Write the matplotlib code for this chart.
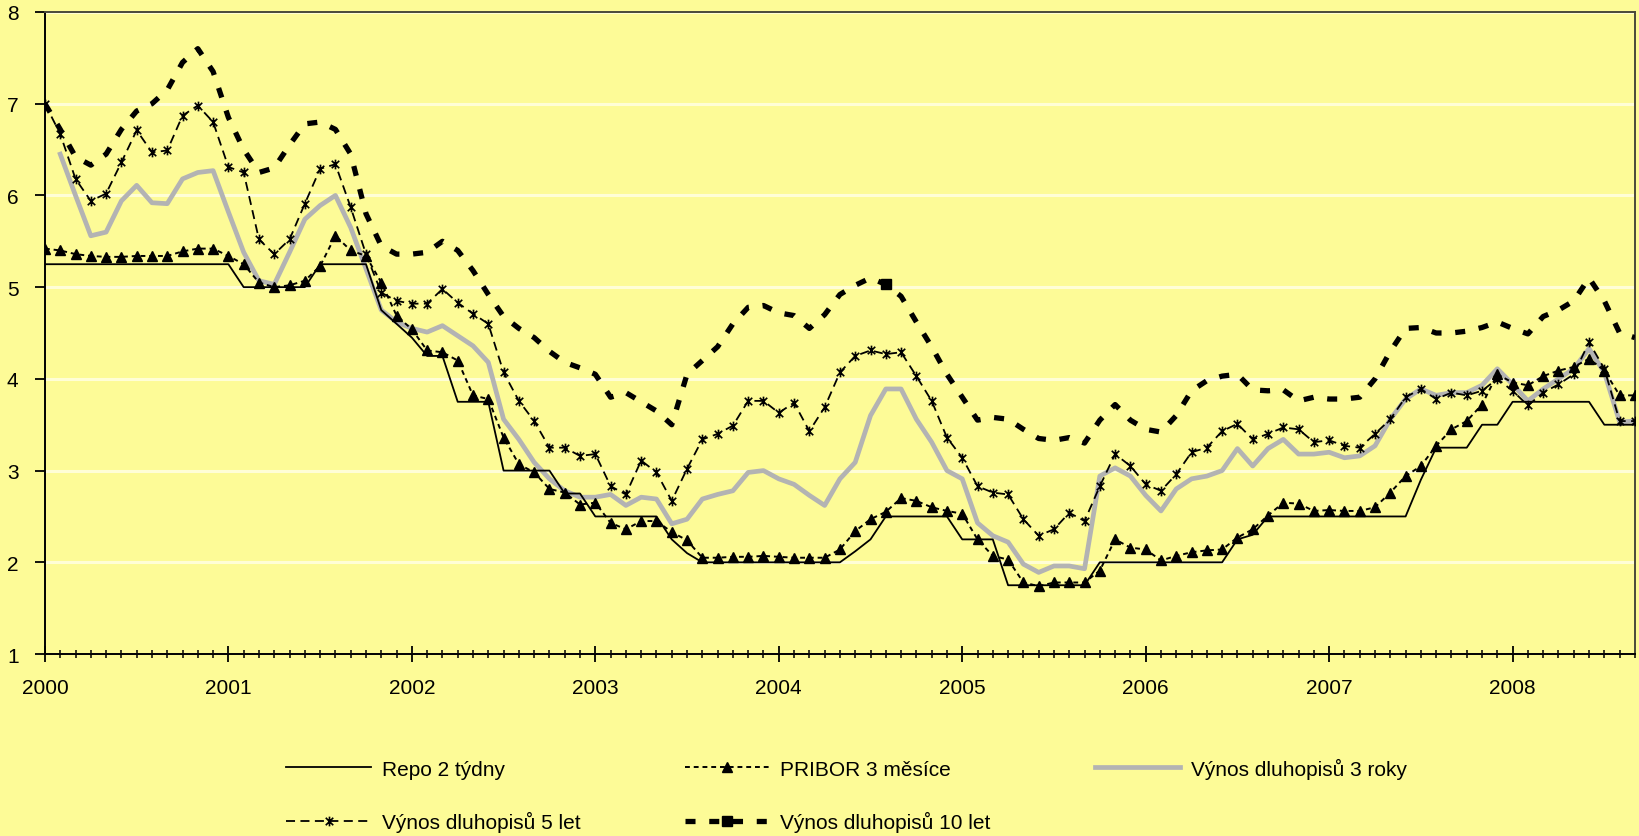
import numpy as np
import matplotlib
matplotlib.use("Agg")
import matplotlib.pyplot as plt
from matplotlib.path import Path

plt.rcParams['font.family'] = ['Liberation Sans', 'DejaVu Sans']

# monthly data, Jan 2000 .. Sep 2008 (105 months)
year_labels = ['2000', '2001', '2002', '2003', '2004', '2005', '2006', '2007', '2008']

repo_2w = [5.25] * 13 + [5.0] * 5 + [5.25] * 4 + [4.75, 4.6, 4.45, 4.25, 4.25] + \
    [3.75] * 3 + [3.0] * 4 + [2.75] * 2 + [2.5] * 5 + [2.25, 2.1] + [2.0] * 10 + \
    [2.12, 2.25] + [2.5] * 5 + [2.25] * 3 + [1.75] * 6 + [2.0] * 9 + [2.25, 2.3] + \
    [2.5] * 10 + [2.9] + [3.25] * 3 + [3.5] * 2 + [3.75] * 6 + [3.5] * 3

pribor_3m = [5.42, 5.40, 5.36, 5.34, 5.33, 5.33, 5.34, 5.34, 5.34, 5.39, 5.42, 5.42,
             5.34, 5.25, 5.05, 5.00, 5.02, 5.07, 5.23, 5.56, 5.40, 5.34, 5.05, 4.69,
             4.54, 4.31, 4.29, 4.20, 3.82, 3.78, 3.36, 3.07, 2.98, 2.80, 2.76, 2.63,
             2.65, 2.43, 2.36, 2.45, 2.45, 2.33, 2.24, 2.05, 2.05, 2.06, 2.06, 2.07,
             2.06, 2.05, 2.05, 2.05, 2.14, 2.34, 2.47, 2.55, 2.70, 2.67, 2.60, 2.56,
             2.53, 2.25, 2.07, 2.03, 1.78, 1.74, 1.78, 1.78, 1.78, 1.91, 2.25, 2.16,
             2.14, 2.02, 2.07, 2.11, 2.13, 2.14, 2.27, 2.36, 2.51, 2.65, 2.64, 2.56,
             2.57, 2.56, 2.56, 2.60, 2.76, 2.94, 3.05, 3.27, 3.45, 3.54, 3.72, 4.05,
             3.96, 3.93, 4.03, 4.09, 4.13, 4.22, 4.09, 3.82, 3.82]

bond_3y = [np.nan, 6.45, 6.00, 5.56, 5.60, 5.94, 6.11, 5.92, 5.91, 6.18, 6.25, 6.27,
           5.82, 5.38, 5.07, 5.03, 5.38, 5.74, 5.89, 6.00, 5.65, 5.20, 4.75, 4.62,
           4.55, 4.51, 4.58, 4.47, 4.36, 4.18, 3.56, 3.34, 3.09, 2.91, 2.78, 2.71,
           2.71, 2.74, 2.62, 2.71, 2.69, 2.42, 2.47, 2.69, 2.74, 2.78, 2.98, 3.00,
           2.91, 2.85, 2.73, 2.62, 2.91, 3.09, 3.60, 3.89, 3.89, 3.56, 3.31, 3.00,
           2.91, 2.43, 2.29, 2.22, 1.98, 1.89, 1.96, 1.96, 1.93, 2.94, 3.03, 2.94,
           2.73, 2.56, 2.80, 2.91, 2.94, 3.00, 3.24, 3.05, 3.24, 3.34, 3.18, 3.18,
           3.20, 3.14, 3.16, 3.27, 3.56, 3.78, 3.89, 3.82, 3.85, 3.85, 3.93, 4.11,
           3.94, 3.76, 3.89, 4.00, 4.11, 4.33, 4.07, 3.53, 3.54]

bond_5y = [7.00, 6.67, 6.18, 5.94, 6.02, 6.36, 6.71, 6.47, 6.49, 6.87, 6.98, 6.80,
           6.31, 6.25, 5.52, 5.36, 5.52, 5.91, 6.29, 6.34, 5.87, 5.36, 4.94, 4.85,
           4.82, 4.82, 4.98, 4.83, 4.71, 4.60, 4.07, 3.76, 3.54, 3.25, 3.25, 3.16,
           3.18, 2.83, 2.74, 3.11, 2.98, 2.67, 3.02, 3.34, 3.40, 3.49, 3.76, 3.76,
           3.63, 3.74, 3.43, 3.69, 4.07, 4.25, 4.31, 4.27, 4.29, 4.03, 3.76, 3.36,
           3.14, 2.83, 2.76, 2.74, 2.47, 2.29, 2.36, 2.54, 2.45, 2.83, 3.18, 3.05,
           2.85, 2.78, 2.96, 3.20, 3.25, 3.43, 3.51, 3.34, 3.40, 3.47, 3.45, 3.31,
           3.33, 3.27, 3.25, 3.40, 3.56, 3.80, 3.89, 3.78, 3.85, 3.82, 3.87, 4.00,
           3.87, 3.71, 3.85, 3.94, 4.05, 4.40, 4.11, 3.54, 3.54]

bond_10y = [7.00, 6.72, 6.42, 6.33, 6.45, 6.72, 6.92, 7.00, 7.15, 7.45, 7.60, 7.35,
            6.85, 6.50, 6.25, 6.30, 6.55, 6.78, 6.80, 6.72, 6.45, 5.80, 5.45, 5.36,
            5.36, 5.38, 5.50, 5.40, 5.18, 4.92, 4.68, 4.55, 4.45, 4.30, 4.18, 4.12,
            4.05, 3.80, 3.85, 3.75, 3.65, 3.50, 4.05, 4.20, 4.35, 4.60, 4.78, 4.80,
            4.72, 4.69, 4.55, 4.70, 4.92, 5.02, 5.10, 5.03, 4.90, 4.62, 4.35, 4.05,
            3.80, 3.55, 3.58, 3.56, 3.45, 3.35, 3.33, 3.36, 3.30, 3.55, 3.72, 3.55,
            3.45, 3.42, 3.60, 3.87, 3.98, 4.03, 4.05, 3.88, 3.87, 3.88, 3.76, 3.80,
            3.78, 3.78, 3.80, 4.00, 4.30, 4.55, 4.56, 4.50, 4.50, 4.52, 4.56, 4.62,
            4.55, 4.49, 4.68, 4.75, 4.85, 5.10, 4.85, 4.50, 4.45]

months = np.arange(len(repo_2w))

bg = '#FDFB97'

fig = plt.figure(figsize=(16.4, 8.37), dpi=100)
fig.patch.set_facecolor(bg)
ax = fig.add_axes([0.0274, 0.2174, 0.9695, 0.7671])
ax.set_facecolor(bg)

# star marker like the spreadsheet one: x with a vertical bar
star = Path([(-1, -1), (1, 1), (-1, 1), (1, -1), (0, -1.3), (0, 1.3)],
            [Path.MOVETO, Path.LINETO] * 3)

l3, = ax.plot(months, bond_3y, color='#B3B3B3', lw=3.4, solid_joinstyle='round',
              label='Výnos dluhopisů 3 roky', zorder=2)
l1, = ax.plot(months, repo_2w, color='black', lw=1.3, label='Repo 2 týdny', zorder=3)
l2, = ax.plot(months, pribor_3m, color='black', lw=1.4, ls=(0, (2.5, 2)),
              marker='^', ms=6.5, mfc='black', mec='black',
              label='PRIBOR 3 měsíce', zorder=4)
l5, = ax.plot(months, bond_5y, color='black', lw=1.3, ls=(0, (5, 3)),
              marker=star, ms=7, mfc='none', mec='black', mew=1.2,
              label='Výnos dluhopisů 5 let', zorder=5)
l10, = ax.plot(months, bond_10y, color='black', lw=3.8, ls=(0, (1.9, 2.6)),
               dash_capstyle='butt', marker='s', ms=7, markevery=[55],
               mfc='black', mec='black', label='Výnos dluhopisů 10 let', zorder=6)

ax.set_xlim(0, len(months) - 1)
ax.set_ylim(1, 8)
ax.set_xticks(np.arange(0, len(months), 12))
ax.set_xticklabels(year_labels)
ax.set_xticks(months, minor=True)
ax.set_yticks(range(1, 9))

ax.yaxis.grid(True, color='#FFFED6', lw=2.2)
ax.set_axisbelow(True)

ax.tick_params(axis='x', which='major', direction='inout', length=11, width=1.3,
               pad=12, labelsize=15, colors='black')
ax.tick_params(axis='x', which='minor', direction='inout', length=6, width=1.1)
ax.tick_params(axis='y', direction='out', length=7, width=1.3, pad=12,
               labelsize=15, colors='black')

for side in ['left', 'bottom']:
    ax.spines[side].set_color('black')
    ax.spines[side].set_linewidth(1.4)
for side in ['top', 'right']:
    ax.spines[side].set_color('#4A4A3A')
    ax.spines[side].set_linewidth(1.4)

handles = [l1, l5, l2, l10, l3]
fig.legend(handles=handles, labels=[h.get_label() for h in handles],
           ncol=3, loc='upper left', bbox_to_anchor=(0.168, 0.106),
           frameon=False, fontsize=15, handlelength=4.1, handletextpad=0.5,
           columnspacing=5.0, labelspacing=1.55, borderpad=0, numpoints=1)

fig.savefig('out.png', dpi=100, facecolor=bg)
